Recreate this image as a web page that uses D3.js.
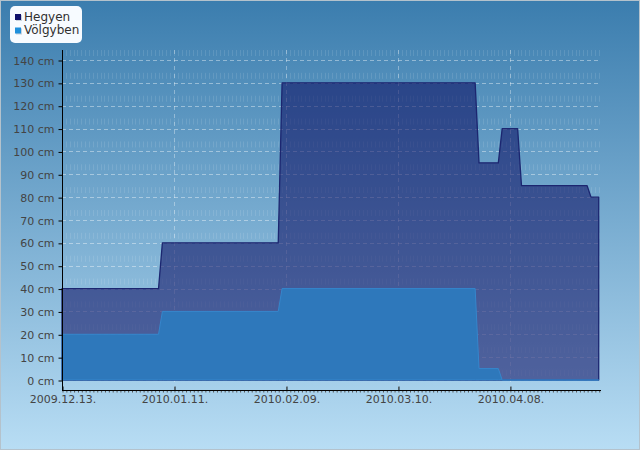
<!DOCTYPE html>
<html>
<head>
<meta charset="utf-8">
<script src="https://cdn.jsdelivr.net/npm/d3@7"></script>
<style>
  body { margin: 0; }
  svg text { font-family: "DejaVu Sans", sans-serif; }
</style>
</head>
<body>
<div id="graf"></div>
<script>
// Adatok
const seriesNames = ["Hegyen", "Völgyben"]
const hegyenDates = ["2009-12-13", "2010-01-07", "2010-01-08", "2010-02-07", "2010-02-08",
  "2010-03-30", "2010-03-31", "2010-04-05", "2010-04-06", "2010-04-10", "2010-04-11",
  "2010-04-28", "2010-04-29", "2010-05-01"]
const hegyenValues = [40, 40, 60, 60, 130, 130, 95, 95, 110, 110, 85, 85, 80, 80]
const volgybenDates = ["2009-12-13", "2010-01-07", "2010-01-08", "2010-02-07", "2010-02-08",
  "2010-03-30", "2010-03-31", "2010-04-05", "2010-04-06", "2010-05-01"]
const volgybenValues = [20, 20, 30, 30, 40, 40, 5, 5, 0, 0]
const xTickDates = ["2009-12-13", "2010-01-11", "2010-02-09", "2010-03-10", "2010-04-08"]
const yTickValues = [0, 10, 20, 30, 40, 50, 60, 70, 80, 90, 100, 110, 120, 130, 140]

const parse = d3.utcParse("%Y-%m-%d")
const hegyen = hegyenDates.map((d, i) => ({ date: parse(d), value: hegyenValues[i] }))
const volgyben = volgybenDates.map((d, i) => ({ date: parse(d), value: volgybenValues[i] }))

// Méretek
const anchoTotal = 640
const altoTotal = 450
const plot = { left: 62, right: 600, top: 50, bottom: 390 }

const svg = d3.select("#graf")
  .append("svg")
  .attr("width", anchoTotal)
  .attr("height", altoTotal)

const defs = svg.append("defs")
const bg = defs.append("linearGradient")
  .attr("id", "bg")
  .attr("x1", 0).attr("y1", 0).attr("x2", 0).attr("y2", 1)
bg.append("stop").attr("offset", "0%").attr("stop-color", "#3b7dae")
bg.append("stop").attr("offset", "100%").attr("stop-color", "#b8ddf4")

svg.append("rect")
  .attr("x", 0.5).attr("y", 0.5)
  .attr("width", anchoTotal - 1).attr("height", altoTotal - 1)
  .attr("fill", "url(#bg)")
  .attr("stroke", "#b4c2cc")

// Skálák
const x = d3.scaleUtc()
  .domain([parse("2009-12-13"), new Date(Date.UTC(2010, 4, 1, 8))])
  .range([plot.left, plot.right])
const y = d3.scaleLinear().domain([0, 140]).range([380, 60])

// Napi szaggatott függőleges vonalak
const days = d3.utcDay.range(parse("2009-12-13"), parse("2010-05-02"))
svg.append("g")
  .selectAll("line")
  .data(days)
  .join("line")
  .attr("x1", (d) => Math.round(x(d)) + 0.5)
  .attr("x2", (d) => Math.round(x(d)) + 0.5)
  .attr("y1", plot.top)
  .attr("y2", plot.bottom)
  .attr("stroke", "#ffffff")
  .attr("stroke-opacity", 0.11)
  .attr("stroke-dasharray", "6,16.857")

// Rácsvonalak
svg.append("g")
  .selectAll("line")
  .data(yTickValues)
  .join("line")
  .attr("x1", plot.left)
  .attr("x2", plot.right)
  .attr("y1", (d) => Math.round(y(d)) + 0.5)
  .attr("y2", (d) => Math.round(y(d)) + 0.5)
  .attr("stroke", "#ffffff")
  .attr("stroke-opacity", 0.4)
  .attr("stroke-dasharray", "4,3")

svg.append("g")
  .selectAll("line")
  .data(xTickDates.map(parse))
  .join("line")
  .attr("x1", (d) => Math.round(x(d)) + 0.5)
  .attr("x2", (d) => Math.round(x(d)) + 0.5)
  .attr("y1", plot.top)
  .attr("y2", plot.bottom)
  .attr("stroke", "#ffffff")
  .attr("stroke-opacity", 0.35)
  .attr("stroke-dasharray", "4,4")

// Területek
const area = d3.area()
  .x((d) => x(d.date))
  .y0(y(0))
  .y1((d) => y(d.value))

svg.append("path")
  .datum(hegyen)
  .attr("d", area)
  .attr("fill", "#0a0a5e")
  .attr("fill-opacity", 0.55)
  .attr("stroke", "#1c2670")
  .attr("stroke-width", 1.3)
  .attr("stroke-linejoin", "round")

svg.append("path")
  .datum(volgyben)
  .attr("d", area)
  .attr("fill", "#2e78bb")
  .attr("stroke", "#3586cc")
  .attr("stroke-width", 1)

// Tengelyek
const yAxis = d3.axisLeft(y)
  .tickValues(yTickValues)
  .tickSize(4)
  .tickPadding(4)
  .tickFormat((d) => d + " cm")
const yAxisGroup = svg.append("g")
  .attr("transform", `translate(${plot.left + 0.5}, 0.5)`)
  .call(yAxis)
yAxisGroup.select(".domain").remove()

const xMinor = d3.axisBottom(x).tickValues(days).tickSize(2).tickFormat("")
svg.append("g")
  .attr("transform", `translate(0.5, ${plot.bottom + 0.5})`)
  .call(xMinor)
  .call((g) => g.select(".domain").remove())
  .selectAll("line").attr("stroke", "#555")

const fmt = d3.utcFormat("%Y.%m.%d.")
const xAxis = d3.axisBottom(x)
  .tickValues(xTickDates.map(parse))
  .tickSizeInner(-4)
  .tickSizeOuter(0)
  .tickPadding(5)
  .tickFormat(fmt)
const xAxisGroup = svg.append("g")
  .attr("transform", `translate(0.5, ${plot.bottom + 0.5})`)
  .call(xAxis)
xAxisGroup.select(".domain").remove()

svg.selectAll(".tick text")
  .attr("font-size", 11)
  .attr("font-family", "DejaVu Sans")
  .attr("fill", "#444")

svg.append("line")
  .attr("x1", plot.left + 0.5).attr("x2", plot.left + 0.5)
  .attr("y1", plot.top).attr("y2", plot.bottom + 1)
  .attr("stroke", "#000")
svg.append("line")
  .attr("x1", plot.left).attr("x2", plot.right + 1)
  .attr("y1", plot.bottom + 0.5).attr("y2", plot.bottom + 0.5)
  .attr("stroke", "#000")

// Jelmagyarázat
const legendColors = ["#10106a", "#1e90dc"]
const legend = svg.append("g")
legend.append("rect")
  .attr("x", 10).attr("y", 6)
  .attr("width", 72).attr("height", 37)
  .attr("rx", 5)
  .attr("fill", "#f7fbff")
const items = legend.selectAll("g.item")
  .data(seriesNames)
  .join("g")
  .attr("class", "item")
  .attr("transform", (d, i) => `translate(15, ${14 + i * 13.5})`)
items.append("rect")
  .attr("x", 1).attr("y", 1)
  .attr("width", 6).attr("height", 6)
  .attr("fill", "#9ab")
  .attr("opacity", 0.5)
items.append("rect")
  .attr("width", 6).attr("height", 6)
  .attr("fill", (d, i) => legendColors[i])
items.append("text")
  .attr("x", 9)
  .attr("y", 6.7)
  .attr("font-size", 12)
  .attr("fill", "#303030")
  .text((d) => d)
</script>
</body>
</html>
